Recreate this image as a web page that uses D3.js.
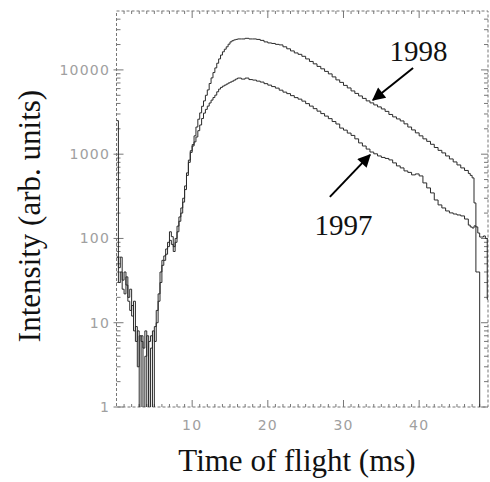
<!DOCTYPE html>
<html>
<head>
<meta charset="utf-8">
<script src="https://cdn.jsdelivr.net/npm/d3@7"></script>
<style>
  body { margin: 0; background: #fff; }
  svg { display: block; }
</style>
</head>
<body>
<svg id="chart" width="490" height="482"></svg>
<script>
// time of flight bins (ms): 0.25 ms up to the peak, 0.5 ms on the tail, 0.25 ms at the cut-off
var tof = [0, 0.25, 0.5, 0.75, 1, 1.25, 1.5, 1.75, 2, 2.25, 2.5, 2.75, 3, 3.25, 3.5, 3.75, 4, 4.25, 4.5, 4.75, 5, 5.25, 5.5, 5.75, 6,
  6.25, 6.5, 6.75, 7, 7.25, 7.5, 7.75, 8, 8.25, 8.5, 8.75, 9, 9.25, 9.5, 9.75, 10, 10.25, 10.5, 10.75, 11,
  11.25, 11.5, 11.75, 12, 12.25, 12.5, 12.75, 13, 13.25, 13.5, 13.75, 14, 14.25, 14.5, 14.75, 15, 15.25, 15.5, 15.75, 16,
  16.5, 17, 17.5, 18, 18.5, 19, 19.5,
  20, 20.5, 21, 21.5, 22, 22.5, 23, 23.5, 24, 24.5, 25, 25.5, 26, 26.5, 27, 27.5, 28, 28.5, 29, 29.5,
  30, 30.5, 31, 31.5, 32, 32.5, 33, 33.5, 34, 34.5, 35, 35.5, 36, 36.5, 37, 37.5, 38, 38.5, 39, 39.5,
  40, 40.5, 41, 41.5, 42, 42.5, 43, 43.5, 44, 44.5, 45, 45.5, 46, 46.5,
  46.75, 47, 47.25, 47.5, 47.75, 48, 48.25, 48.5, 48.75, 49];

var y1998 = [2500, 45, 60, 32, 40, 28, 20, 25, 12, 18, 6, 8, 0.5, 7, 5, 8, 0.5, 6, 7, 0.5, 9, 14, 22, 40, 55,
  62, 75, 90, 120, 105, 80, 100, 140, 180, 230, 300, 420, 600, 850, 1100, 1300, 1650, 2100, 2600, 3090,
  3700, 4290, 5000, 5790, 6900, 8040, 9300, 10560, 12000, 13500, 15000, 16400, 17600, 18800, 20200, 21500, 22200, 22700, 23000, 23300,
  23300, 23700, 23300, 23300, 23000, 22400, 21500,
  20900, 20600, 20100, 19800, 18800, 17800, 16800, 15900, 15300, 14500, 13500, 12600, 11800, 11000, 10300, 9600, 8970, 8260, 7610, 7110,
  6550, 6110, 5630, 5260, 4910, 4590, 4290, 4060, 3840, 3640, 3440, 3220, 2960, 2770, 2620, 2480, 2290, 2100, 1940, 1790,
  1650, 1520, 1420, 1310, 1200, 1110, 1035, 953, 878, 809, 745, 687, 641, 591,
  560, 523, 264, 40, 40, 0.5, 0.5, 0.5, 0.5, 0.5];

var y1997 = [60, 30, 40, 25, 22, 35, 18, 14, 16, 8, 9, 3, 7, 6, 0.5, 4, 7, 0.5, 5, 8, 6, 10, 18, 30, 48,
  55, 65, 80, 95, 85, 70, 90, 120, 160, 200, 270, 380, 560, 800, 1050, 1250, 1400, 1600, 1900, 2220,
  2650, 3070, 3400, 3720, 4050, 4380, 4700, 5020, 5500, 5920, 6200, 6420, 6600, 6790, 7000, 7170, 7350, 7570, 7800, 8000,
  7780, 8000, 7680, 7570, 7360, 7170, 6870,
  6600, 6340, 6080, 5750, 5450, 5230, 4950, 4690, 4500, 4260, 3980, 3720, 3470, 3240, 3030, 2830, 2640, 2440, 2280, 2040,
  1930, 1780, 1670, 1520, 1360, 1250, 1150, 1060, 1010, 953, 915, 890, 855, 788, 726, 687, 633, 608, 568, 583,
  552, 456, 398, 347, 286, 250, 230, 212, 201, 195, 190, 185, 170, 144,
  137, 133, 141, 137, 116, 104, 104, 107, 100, 19];

var yTicks = [1, 10, 100, 1000, 10000];
var xTicks = [10, 20, 30, 40];

var svg = d3.select("#chart");
var pLeft = 116.5, pRight = 488, pTop = 11, pBottom = 407;

var x = d3.scaleLinear().domain([0, 49.1]).range([pLeft, pRight]);
var y = d3.scaleLog().domain([1, 50000]).range([pBottom, pTop]);

var frameColor = "#777";
var labelColor = "#a0a0a0";

// clip
var defs = svg.append("defs");
defs.append("clipPath").attr("id", "plot")
  .append("rect").attr("x", pLeft).attr("y", pTop)
  .attr("width", pRight - pLeft).attr("height", pBottom - pTop);

// frame (faded, dashed look of the scan)
svg.append("rect")
  .attr("x", pLeft).attr("y", pTop)
  .attr("width", pRight - pLeft).attr("height", pBottom - pTop)
  .attr("fill", "none")
  .attr("stroke", frameColor)
  .attr("stroke-width", 1)
  .attr("stroke-dasharray", "3,2");

// y axis ticks, left and right
var minorY = [];
yTicks.forEach(function(d) {
  for (var k = 2; k <= 9; k++) if (d * k < 50000) minorY.push(d * k);
});
var ax = svg.append("g").attr("stroke", frameColor).attr("stroke-width", 1);
yTicks.forEach(function(d) {
  ax.append("line").attr("x1", pLeft - 3).attr("x2", pLeft + 7).attr("y1", y(d)).attr("y2", y(d));
  ax.append("line").attr("x1", pRight - 7).attr("x2", pRight).attr("y1", y(d)).attr("y2", y(d));
});
minorY.forEach(function(d) {
  ax.append("line").attr("x1", pLeft).attr("x2", pLeft + 4).attr("y1", y(d)).attr("y2", y(d));
  ax.append("line").attr("x1", pRight - 4).attr("x2", pRight).attr("y1", y(d)).attr("y2", y(d));
});

// x axis ticks, bottom and top
d3.range(1, 49).forEach(function(t) {
  var len = (t % 10 === 0) ? 7 : 3;
  ax.append("line").attr("x1", x(t)).attr("x2", x(t)).attr("y1", pBottom).attr("y2", pBottom - len);
  ax.append("line").attr("x1", x(t)).attr("x2", x(t)).attr("y1", pTop).attr("y2", pTop + len);
});

// tick labels
svg.append("g").selectAll("text").data(yTicks).enter().append("text")
  .attr("x", 110)
  .attr("y", function(d) { return y(d) + 5; })
  .attr("text-anchor", "end")
  .attr("font-family", "DejaVu Sans")
  .attr("font-size", 14)
  .attr("letter-spacing", "1.2px")
  .attr("fill", labelColor)
  .text(function(d) { return d; });

svg.append("g").selectAll("text").data(xTicks).enter().append("text")
  .attr("x", function(d) { return x(d); })
  .attr("y", 430)
  .attr("text-anchor", "middle")
  .attr("font-family", "DejaVu Sans")
  .attr("font-size", 14)
  .attr("letter-spacing", "1.2px")
  .attr("fill", labelColor)
  .text(function(d) { return d; });

// curves
function series(vals) {
  var pts = tof.map(function(t, i) { return { t: t, v: vals[i] }; });
  pts.push({ t: 49.1, v: vals[vals.length - 1] });
  return pts;
}
var line = d3.line()
  .curve(d3.curveStepAfter)
  .x(function(d) { return x(d.t); })
  .y(function(d) { return y(Math.max(d.v, 0.5)); });

var plot = svg.append("g").attr("clip-path", "url(#plot)");
plot.append("path").datum(series(y1997))
  .attr("d", line).attr("fill", "none").attr("stroke", "#2a2a2a").attr("stroke-width", 1);
plot.append("path").datum(series(y1998))
  .attr("d", line).attr("fill", "none").attr("stroke", "#2a2a2a").attr("stroke-width", 1);

// axis titles
svg.append("text")
  .attr("transform", "translate(40,216) rotate(-90)")
  .attr("text-anchor", "middle")
  .attr("font-family", "Liberation Serif")
  .attr("font-size", 31)
  .attr("fill", "#111")
  .text("Intensity (arb. units)");

svg.append("text")
  .attr("x", 297).attr("y", 471)
  .attr("text-anchor", "middle")
  .attr("font-family", "Liberation Serif")
  .attr("font-size", 31)
  .attr("fill", "#111")
  .text("Time of flight (ms)");

// annotations: label position and arrow (from -> to) in data units
var notes = [
  { text: "1998", lt: 39.9, lv: 12800, ft: 39.2, fv: 10560, tt: 33.9, tv: 4400 },
  { text: "1997", lt: 30.0, lv: 110, ft: 28.2, fv: 311, tt: 33.5, tv: 980 }
];
defs.append("marker")
  .attr("id", "head").attr("viewBox", "0 0 10 10")
  .attr("refX", 9).attr("refY", 5)
  .attr("markerWidth", 16).attr("markerHeight", 13)
  .attr("markerUnits", "userSpaceOnUse")
  .attr("orient", "auto")
  .append("path").attr("d", "M0,0 L10,5 L0,10 Z").attr("fill", "#000");

notes.forEach(function(n) {
  svg.append("text")
    .attr("x", x(n.lt)).attr("y", y(n.lv))
    .attr("text-anchor", "middle")
    .attr("font-family", "Liberation Serif")
    .attr("font-size", 29)
    .attr("fill", "#111")
    .text(n.text);
  svg.append("line")
    .attr("x1", x(n.ft)).attr("y1", y(n.fv))
    .attr("x2", x(n.tt)).attr("y2", y(n.tv))
    .attr("stroke", "#000").attr("stroke-width", 2)
    .attr("marker-end", "url(#head)");
});
</script>
</body>
</html>
